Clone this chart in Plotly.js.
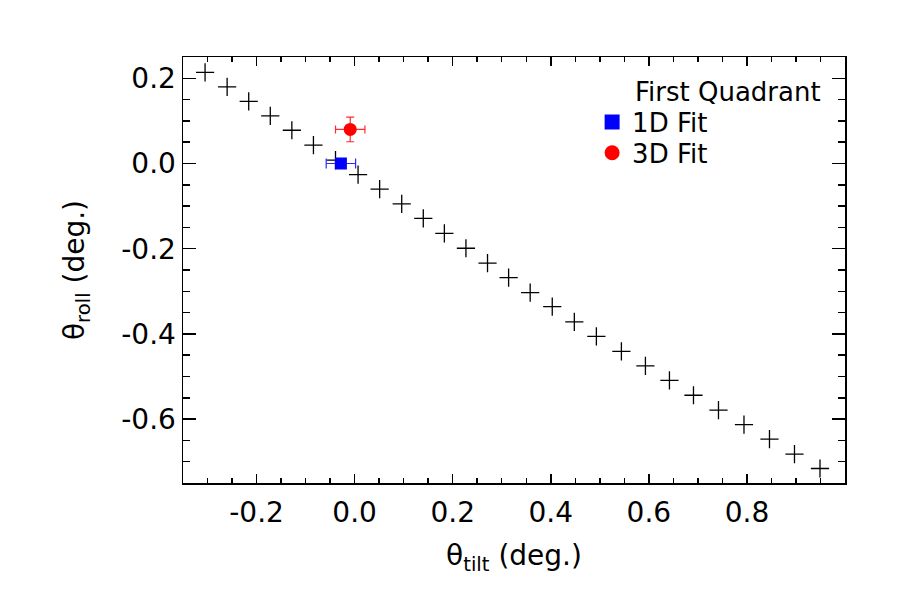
<!DOCTYPE html>
<html>
<head>
<meta charset="utf-8">
<script src="https://cdn.plot.ly/plotly-3.0.1.min.js"></script>
<style>html,body{margin:0;padding:0;background:#fff}</style>
</head>
<body>
<div id="chart" style="width:900px;height:600px"></div>
<script>
// Model track of tilt vs roll angles (degrees)
const modelTilt = [-0.305, -0.260, -0.216, -0.172, -0.128, -0.084, -0.039, 0.007, 0.051, 0.096,
                   0.140, 0.183, 0.227, 0.271, 0.314, 0.358, 0.403, 0.448, 0.493, 0.544,
                   0.593, 0.642, 0.691, 0.742, 0.794, 0.846, 0.897, 0.949];
const modelRoll = [0.214, 0.180, 0.146, 0.112, 0.078, 0.043, 0.008, -0.026, -0.060, -0.095,
                   -0.129, -0.164, -0.199, -0.234, -0.268, -0.303, -0.336, -0.372, -0.406, -0.441,
                   -0.475, -0.509, -0.544, -0.579, -0.613, -0.647, -0.682, -0.716];

// Fit results with uncertainties
const fit1dTilt = [-0.028];
const fit1dRoll = [0.000];
const fit1dTiltErr = [0.030];

const fit3dTilt = [-0.009];
const fit3dRoll = [0.080];
const fit3dTiltErr = [0.030];
const fit3dRollErr = [0.029];

// Axis tick labels (plain hyphen minus)
const xTickVals = [-0.2, 0.0, 0.2, 0.4, 0.6, 0.8];
const xTickText = ['-0.2', '0.0', '0.2', '0.4', '0.6', '0.8'];
const yTickVals = [0.2, 0.0, -0.2, -0.4, -0.6];
const yTickText = ['0.2', '0.0', '-0.2', '-0.4', '-0.6'];

const FONT = 'DejaVu Sans, Liberation Sans, Arial, sans-serif';

const traces = [
  {
    x: modelTilt, y: modelRoll, type: 'scatter', mode: 'markers',
    showlegend: false, hoverinfo: 'skip',
    marker: {symbol: 'cross-thin', size: 13, color: '#000',
             line: {color: '#000', width: 1.3}}
  },
  {
    x: fit1dTilt, y: fit1dRoll, type: 'scatter', mode: 'markers', name: '1D Fit',
    showlegend: false,
    marker: {symbol: 'square', size: 12, color: '#0000ff'},
    error_x: {type: 'data', array: fit1dTiltErr, visible: true, color: '#2a2aff', thickness: 1.2, width: 5}
  },
  {
    x: fit3dTilt, y: fit3dRoll, type: 'scatter', mode: 'markers', name: '3D Fit',
    showlegend: false,
    marker: {symbol: 'circle', size: 13, color: '#ff0000'},
    error_x: {type: 'data', array: fit3dTiltErr, visible: true, color: '#ff2a2a', thickness: 1.2, width: 4},
    error_y: {type: 'data', array: fit3dRollErr, visible: true, color: '#ff2a2a', thickness: 1.2, width: 4}
  },
  // legend keys (larger symbols than the plotted points)
  {
    x: [null], y: [null], type: 'scatter', mode: 'markers', name: '1D Fit',
    legend: 'legend', marker: {symbol: 'square', size: 15, color: '#0000ff'}
  },
  {
    x: [null], y: [null], type: 'scatter', mode: 'markers', name: '3D Fit',
    legend: 'legend2', marker: {symbol: 'circle', size: 15, color: '#ff0000'}
  }
];

const axisCommon = {
  showgrid: false, zeroline: false, showline: true, linecolor: '#000', linewidth: 1.5,
  mirror: 'allticks', ticks: 'inside', tickcolor: '#000', tickwidth: 1.5,
  tickfont: {family: FONT, size: 28, color: '#000'}, tickmode: 'array'
};

const legendCommon = {
  xanchor: 'left', yanchor: 'middle', bgcolor: 'rgba(0,0,0,0)', borderwidth: 0,
  font: {family: FONT, size: 26, color: '#000'}
};

const layout = {
  width: 900, height: 600,
  margin: {l: 183, r: 55, t: 57, b: 117},
  paper_bgcolor: '#fff', plot_bgcolor: '#fff',
  showlegend: true,
  xaxis: Object.assign({}, axisCommon, {
    range: [-0.35, 1.0], tickvals: xTickVals, ticktext: xTickText, ticklen: 9,
    ticklabelstandoff: 4,
    minor: {tick0: 0, dtick: 0.05, ticks: 'inside', ticklen: 5, tickcolor: '#000', tickwidth: 1.5},
    title: {text: '\u03b8<sub>tilt</sub> (deg.)', font: {family: FONT, size: 28, color: '#000'}, standoff: 17}
  }),
  yaxis: Object.assign({}, axisCommon, {
    range: [-0.75, 0.25], tickvals: yTickVals, ticktext: yTickText, ticklen: 13,
    minor: {tick0: 0, dtick: 0.05, ticks: 'inside', ticklen: 7, tickcolor: '#000', tickwidth: 1.5},
    title: {text: '\u03b8<sub>roll</sub> (deg.)', font: {family: FONT, size: 28, color: '#000'}, standoff: 28}
  }),
  legend: Object.assign({}, legendCommon, {x: 0.618, y: 0.847}),
  legend2: Object.assign({}, legendCommon, {x: 0.618, y: 0.775}),
  annotations: [{
    text: 'First Quadrant', xref: 'paper', yref: 'paper', x: 0.6798, y: 0.9178,
    xanchor: 'left', yanchor: 'middle', showarrow: false,
    font: {family: FONT, size: 26, color: '#000'}
  }]
};

Plotly.newPlot('chart', traces, layout, {displayModeBar: false, staticPlot: true});
</script>
</body>
</html>
